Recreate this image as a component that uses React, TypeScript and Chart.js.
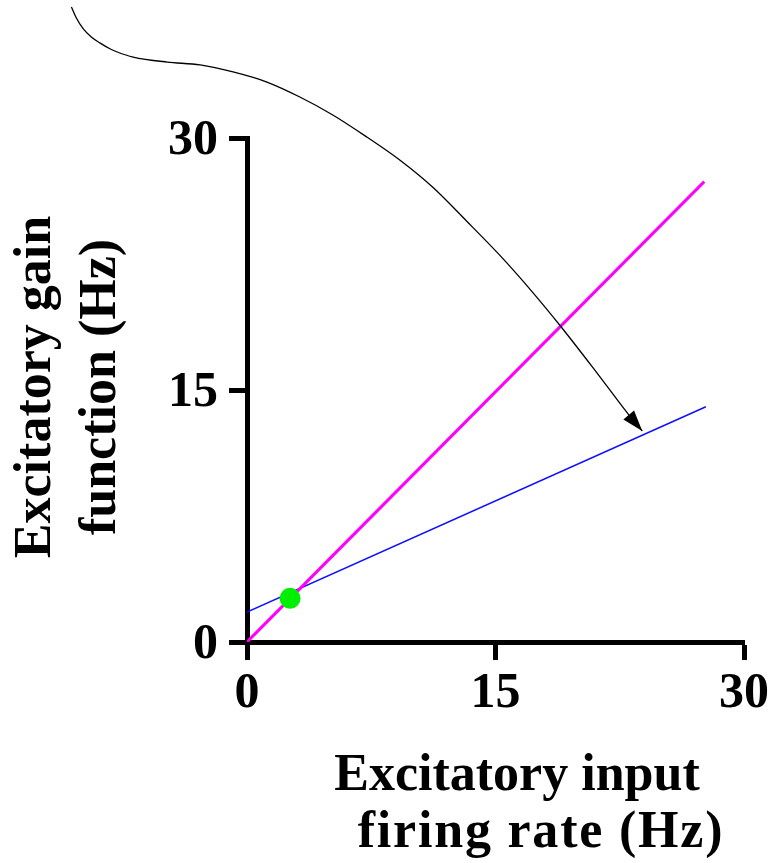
import React, { useEffect, useRef } from "react";
import { Chart, registerables } from "chart.js";

Chart.register(...registerables);

// Axis ticks
const tickValues = [0, 15, 30];

// Identity (magenta) line
const diagX = [0, 27.6];
const diagY = [0, 27.4];

// Gain function (blue) line
const gainX = [0, 27.7];
const gainY = [1.78, 14.0];

// Fixed point (green)
const fixedX = [2.6];
const fixedY = [2.6];

// Curved arrow (black), from start to arrow tip
const arrowX = [-10.6, -10.3, -9.88, -9.4, -8.86, -8.25, -7.83, -6.87, -4.82, -2.83, -0.84, 1.2, 3.19, 5.18, 7.23, 9.22, 11.2, 13.25, 15.24, 17.23, 18.92, 21.27, 23.25, 23.86];
const arrowY = [37.8, 37.14, 36.49, 36.01, 35.65, 35.3, 35.12, 34.82, 34.52, 34.35, 33.93, 33.33, 32.44, 31.37, 30.06, 28.69, 27.08, 25.06, 23.04, 20.83, 18.81, 15.83, 13.27, 12.56];

const xTitle = ["Excitatory input", "firing rate (Hz)"];
const yTitle = ["Excitatory gain", "function (Hz)"];

const FONT = '"Liberation Serif", "Times New Roman", Times, serif';

const zip = (xs: number[], ys: number[]) => xs.map((x, i) => ({ x, y: ys[i] }));

const annotPlugin = {
  id: "annot",
  afterDatasetsDraw(chart: any) {
    const meta = chart.getDatasetMeta(1);
    const pts = meta.data;
    if (!pts || pts.length < 2) return;
    // data stored reversed: index 0 is the tip
    const tip = pts[0];
    const prev = pts[1];
    const ang = Math.atan2(tip.y - prev.y, tip.x - prev.x);
    const len = 21;
    const half = 7;
    const ctx = chart.ctx;
    ctx.save();
    ctx.translate(tip.x, tip.y);
    ctx.rotate(ang);
    ctx.beginPath();
    ctx.moveTo(0, 0);
    ctx.lineTo(-len, -half);
    ctx.lineTo(-len, half);
    ctx.closePath();
    ctx.fillStyle = "#000";
    ctx.fill();
    ctx.restore();
  },
  afterDraw(chart: any) {
    const ctx = chart.ctx;
    ctx.save();
    ctx.fillStyle = "#000";
    ctx.font = `bold 52px ${FONT}`;
    ctx.textAlign = "center";
    ctx.textBaseline = "alphabetic";
    ctx.fillText(xTitle[0], 517, 790);
    (ctx as any).letterSpacing = "1.8px";
    ctx.fillText(xTitle[1], 541, 847);
    (ctx as any).letterSpacing = "0px";
    const yPos = [50, 115];
    yTitle.forEach((t, i) => {
      ctx.save();
      ctx.translate(yPos[i], 387);
      ctx.rotate(-Math.PI / 2);
      ctx.fillText(t, 0, 0);
      ctx.restore();
    });
    ctx.restore();
  },
};

export default function App() {
  const ref = useRef<HTMLCanvasElement>(null);
  useEffect(() => {
    if (!ref.current) return;
    const tickFont = { family: FONT, size: 50, weight: "bold" as const };
    const chart = new Chart(ref.current, {
      type: "line",
      data: {
        datasets: [
          {
            label: "fixed point",
            data: zip(fixedX, fixedY),
            showLine: false,
            pointRadius: 10.5,
            pointBackgroundColor: "#00ee00",
            pointBorderWidth: 0,
            pointBorderColor: "#00ee00",
          },
          {
            label: "arrow",
            data: zip(arrowX, arrowY).reverse(),
            borderColor: "#000",
            borderWidth: 1.3,
            pointRadius: 0,
            cubicInterpolationMode: "monotone",
            clip: false as any,
            fill: false,
          },
          {
            label: "identity",
            data: zip(diagX, diagY),
            borderColor: "#ff00ff",
            borderWidth: 3,
            pointRadius: 0,
            fill: false,
          },
          {
            label: "gain",
            data: zip(gainX, gainY),
            borderColor: "#1010ff",
            borderWidth: 1.5,
            pointRadius: 0,
            fill: false,
          },
        ],
      },
      options: {
        animation: false,
        responsive: false,
        layout: { padding: { top: 138, right: 28, left: 0, bottom: 0 } },
        plugins: { legend: { display: false }, tooltip: { enabled: false } },
        scales: {
          x: {
            type: "linear",
            min: 0,
            max: 30,
            afterBuildTicks: (s: any) => {
              s.ticks = tickValues.map((v) => ({ value: v }));
            },
            afterFit: (s: any) => {
              s.height = 221;
            },
            ticks: { font: tickFont, color: "#000", padding: 4, maxRotation: 0, autoSkip: false },
            grid: { drawOnChartArea: false, drawTicks: true, tickLength: 18, tickWidth: 5, color: "#000" },
            border: { display: true, width: 5, color: "#000" },
          },
          y: {
            type: "linear",
            min: 0,
            max: 30,
            afterBuildTicks: (s: any) => {
              s.ticks = tickValues.map((v) => ({ value: v }));
            },
            afterFit: (s: any) => {
              s.width = 247;
            },
            ticks: { font: tickFont, color: "#000", padding: 11, autoSkip: false, labelOffset: 3 },
            grid: { drawOnChartArea: false, drawTicks: true, tickLength: 18, tickWidth: 5, color: "#000" },
            border: { display: true, width: 5, color: "#000" },
          },
        },
      },
      plugins: [annotPlugin],
    });
    return () => chart.destroy();
  }, []);
  return (
    <div style={{ position: "absolute", left: 0, top: 0, width: 773, height: 863, background: "#fff" }}>
      <canvas ref={ref} width={773} height={863} style={{ display: "block" }} />
    </div>
  );
}
